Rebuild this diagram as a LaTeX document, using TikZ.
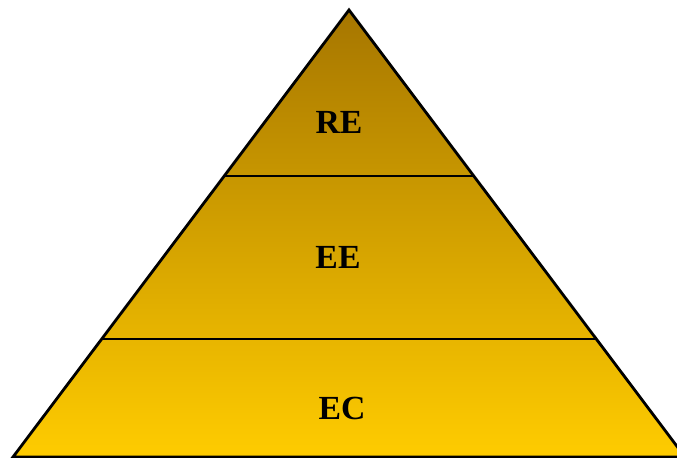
\documentclass[tikz,border=0pt]{standalone}
\usepackage{fontspec}
\setmainfont{Liberation Serif}
\usetikzlibrary{positioning}

\definecolor{goldtop}{RGB}{166,118,0}
\definecolor{goldbot}{RGB}{255,204,0}

\tikzset{
  level/.style={font=\bfseries\fontsize{24}{28}\selectfont},
  edge/.style={line width=2pt, line join=miter}
}

\begin{document}
\begin{tikzpicture}[x=0.025cm, y=-0.025cm]
  % frame of the picture
  \useasboundingbox (0,0) rectangle (677,458);
  \clip (0,0) rectangle (677,458);

  % corners of the pyramid
  \coordinate (apex) at (349,10);
  \coordinate (bl) at (13,457);
  \coordinate (br) at (685,457);
  \coordinate (l1) at (224,176);
  \coordinate (r1) at (474,176);
  \coordinate (l2) at (102,339);
  \coordinate (r2) at (596,339);

  \shade[top color=goldtop, bottom color=goldbot] (apex) -- (br) -- (bl) -- cycle;
  \draw[edge] (apex) -- (br) -- (bl) -- cycle;

  % the three levels
  \draw[edge] (l1) -- (r1);
  \draw[edge] (l2) -- (r2);

  \node[level] (re) at (339,122) {RE};
  \node[level] (ee) at (338,257) {EE};
  \node[level] (ec) at (342,408) {EC};
\end{tikzpicture}
\end{document}
